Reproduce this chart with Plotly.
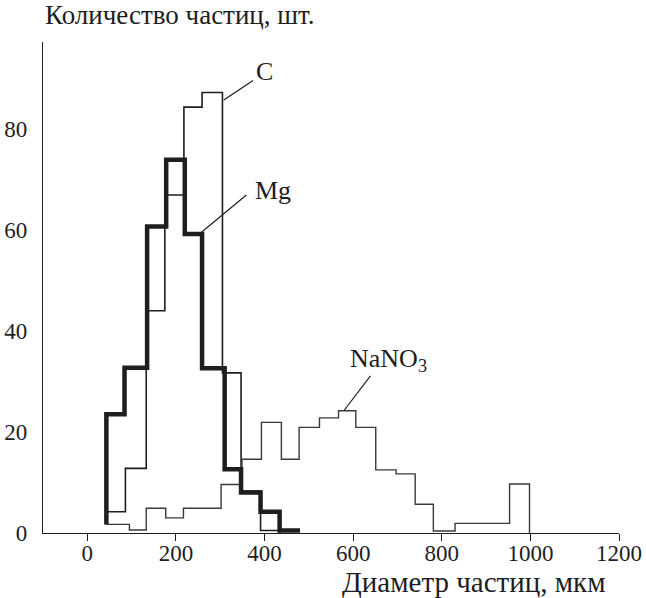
import plotly.graph_objects as go

# ---- data ----
c_edges = [43, 86, 133, 175, 218, 259, 305, 347, 391, 434]
c_counts = [4.2, 12.8, 44.0, 66.9, 84.3, 87.2, 31.7, 8.3, 0.5]

mg_edges = [43, 84, 135, 178, 220, 259, 310, 347, 391, 434, 480]
mg_counts = [23.5, 32.7, 60.7, 73.9, 59.2, 32.6, 12.6, 8.0, 4.2, 0.5]

nano3_edges = [43, 95, 133, 177, 217, 260, 302, 349, 393, 438, 478, 524,
               567, 606, 651, 697, 740, 781, 830, 871, 912, 953, 998]
nano3_counts = [1.7, 0.6, 4.9, 3.0, 4.9, 4.9, 9.6, 14.6, 21.9, 14.6, 20.9,
                22.8, 24.2, 20.9, 12.5, 11.7, 5.7, 0.4, 1.9, 1.9, 1.9, 9.7]

x_ticks = [0, 200, 400, 600, 800, 1000, 1200]
y_ticks = [0, 20, 40, 60, 80]

y_title = "Количество частиц, шт."
x_title = "Диаметр частиц, мкм"


def step_path(edges, counts, start=None, drop_end=True):
    xs, ys = [], []
    if start is not None:
        xs.append(edges[0]); ys.append(start)
    for i, v in enumerate(counts):
        xs += [edges[i], edges[i + 1]]
        ys += [v, v]
    if drop_end:
        xs.append(edges[-1]); ys.append(0)
    return xs, ys


FONT = "Liberation Serif, Times New Roman, serif"
INK = "#1e1e1e"

fig = go.Figure()

cx, cy = step_path(c_edges, c_counts, start=1.7, drop_end=True)
nx, ny = step_path(nano3_edges, nano3_counts, start=None, drop_end=True)
mx, my = step_path(mg_edges, mg_counts, start=1.7, drop_end=False)

fig.add_trace(go.Scatter(x=cx, y=cy, mode="lines", name="C",
                         line=dict(color=INK, width=1.6)))
fig.add_trace(go.Scatter(x=nx, y=ny, mode="lines", name="NaNO3",
                         line=dict(color="#3a3a3a", width=1.4)))
fig.add_trace(go.Scatter(x=mx, y=my, mode="lines", name="Mg",
                         line=dict(color=INK, width=4.5)))

# leader lines
leaders = [
    (308, 85.7, 374, 89.6),
    (257, 59.5, 359, 66.9),
    (579, 24.2, 639, 31.1),
]
for x0, y0, x1, y1 in leaders:
    fig.add_shape(type="line", x0=x0, y0=y0, x1=x1, y1=y1,
                  line=dict(color=INK, width=1.2))

labels = [
    ("C", 400, 91.4),
    ("Mg", 420, 67.9),
    ("NaNO<sub>3</sub>", 680, 34.3),
]
for txt, x, y in labels:
    fig.add_annotation(x=x, y=y, text=txt, showarrow=False,
                       font=dict(family=FONT, size=26, color=INK))

fig.add_annotation(xref="paper", yref="paper", x=0.0, y=1.055,
                   xanchor="left", yanchor="middle", text=y_title,
                   showarrow=False, font=dict(family=FONT, size=27, color=INK))
fig.add_annotation(xref="paper", yref="paper", x=0.981, y=-0.1,
                   xanchor="right", yanchor="middle", text=x_title,
                   showarrow=False, font=dict(family=FONT, size=29, color=INK))

fig.update_layout(
    width=646, height=598,
    margin=dict(l=43, r=27, t=42, b=65, autoexpand=False),
    paper_bgcolor="white", plot_bgcolor="white",
    showlegend=False,
    font=dict(family=FONT, size=23, color=INK),
)
fig.update_xaxes(range=[-100, 1200], tickvals=x_ticks, showgrid=False,
                 zeroline=False, showline=True, linecolor=INK, linewidth=1.3,
                 ticks="outside", ticklen=7, tickwidth=1.2, tickcolor=INK,
                 ticklabelstandoff=-8, automargin=False,
                 tickfont=dict(family=FONT, size=23, color=INK))
fig.update_yaxes(range=[0, 97.2], tickvals=y_ticks, showgrid=False,
                 zeroline=False, showline=True, linecolor=INK, linewidth=1.3,
                 ticks="", ticklabelstandoff=10, automargin=False,
                 tickfont=dict(family=FONT, size=23, color=INK))

fig.write_html("out.html", config={"displayModeBar": False},
               post_script="document.body.style.margin='0';")
